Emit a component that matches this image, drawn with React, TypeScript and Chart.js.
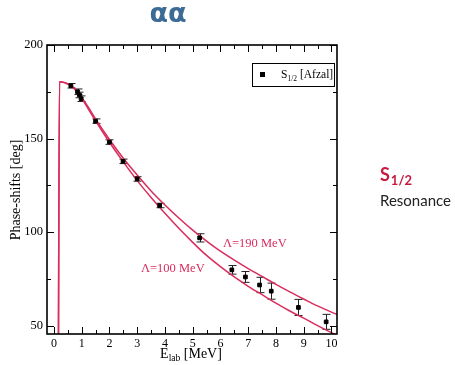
import React, { useEffect, useRef } from "react";
import { Chart, registerables } from "chart.js";

Chart.register(...registerables);

// ---- data ----
const xTicks = [0, 1, 2, 3, 4, 5, 6, 7, 8, 9, 10];
const yTicks = [50, 100, 150, 200];
const xMinorTicks = [0.5, 1.5, 2.5, 3.5, 4.5, 5.5, 6.5, 7.5, 8.5, 9.5];
const yMinorTicks = [75, 125, 175];

const afzalE = [0.61, 0.85, 0.92, 0.98, 1.5, 2.0, 2.49, 3.0, 3.81, 5.25, 6.41, 6.9, 7.41, 7.83, 8.81, 9.81];
const afzalDelta = [178.2, 175.0, 173.3, 171.3, 159.3, 148.1, 137.8, 128.4, 114.2, 96.9, 79.8, 76.0, 71.7, 68.4, 59.7, 52.0];
const afzalErr = [1.2, 1.5, 1.5, 1.5, 1.2, 1.2, 1.2, 1.2, 1.2, 2.2, 2.3, 2.9, 4.1, 4.3, 4.3, 4.0];

const curveE = [0.16, 0.2, 0.6, 0.8, 1.0, 1.25, 1.5, 2.0, 2.5, 3.0, 3.5, 4.0, 4.5, 5.0, 5.5, 6.0, 6.5, 7.0, 7.5, 8.0, 8.5, 9.0, 9.5, 10.0, 10.2];
const lambda100 = [30, 180.4, 178.3, 175.5, 171.5, 165.5, 159.5, 148, 137.5, 127.5, 118.5, 110, 102, 94.5, 87.5, 81.5, 76, 71, 66.5, 62, 57.8, 54, 50, 46.2, 44.8];
const lambda190 = [30, 180.4, 178.5, 176, 172, 166.5, 160.5, 149.5, 139.5, 130.5, 122, 114.5, 107.5, 101, 95.2, 89.8, 85, 80.5, 76.3, 72, 68, 64.2, 60.5, 57.2, 56];

const CURVE_COLOR = "#d92d5c";
const SERIF = "'Liberation Serif', 'Times New Roman', serif";

const decorPlugin = {
  id: "decor",
  beforeDraw(chart: any) {
    const { ctx } = chart;
    ctx.save();
    ctx.fillStyle = "#fff";
    ctx.fillRect(0, 0, chart.width, chart.height);
    ctx.restore();
  },
  beforeDatasetsDraw(chart: any) {
    const { ctx, scales } = chart;
    const xs = scales.x, ys = scales.y;
    ctx.save();
    ctx.beginPath();
    ctx.rect(chart.chartArea.left, chart.chartArea.top, chart.chartArea.right - chart.chartArea.left, chart.chartArea.bottom - chart.chartArea.top);
    ctx.clip();
    ctx.strokeStyle = "#222";
    ctx.lineWidth = 1;
    afzalE.forEach((e, i) => {
      const px = Math.round(xs.getPixelForValue(e)) + 0.5;
      const y1 = ys.getPixelForValue(afzalDelta[i] + afzalErr[i]);
      const y2 = ys.getPixelForValue(afzalDelta[i] - afzalErr[i]);
      ctx.beginPath();
      ctx.moveTo(px, y1);
      ctx.lineTo(px, y2);
      ctx.moveTo(px - 4, y1);
      ctx.lineTo(px + 4, y1);
      ctx.moveTo(px - 4, y2);
      ctx.lineTo(px + 4, y2);
      ctx.stroke();
    });
    ctx.restore();
  },
  afterDraw(chart: any) {
    const { ctx, scales, chartArea: a } = chart;
    const xs = scales.x, ys = scales.y;
    ctx.save();
    // ticks (inward, all four sides)
    ctx.strokeStyle = "#000";
    ctx.lineWidth = 1;
    const tickX = (v: number, len: number) => {
      const px = Math.round(xs.getPixelForValue(v)) + 0.5;
      ctx.beginPath();
      ctx.moveTo(px, a.bottom);
      ctx.lineTo(px, a.bottom - len);
      ctx.moveTo(px, a.top);
      ctx.lineTo(px, a.top + len);
      ctx.stroke();
    };
    const tickY = (v: number, len: number) => {
      const py = Math.round(ys.getPixelForValue(v)) + 0.5;
      ctx.beginPath();
      ctx.moveTo(a.left, py);
      ctx.lineTo(a.left + len, py);
      ctx.moveTo(a.right, py);
      ctx.lineTo(a.right - len, py);
      ctx.stroke();
    };
    xTicks.forEach((v) => tickX(v, 7));
    xMinorTicks.forEach((v) => tickX(v, 4));
    yTicks.forEach((v) => tickY(v, 7));
    yMinorTicks.forEach((v) => tickY(v, 4));
    // frame
    ctx.lineWidth = 1.6;
    ctx.strokeRect(a.left, a.top, a.right - a.left, a.bottom - a.top);

    // legend
    ctx.lineWidth = 1;
    ctx.strokeRect(252.5, 63.5, 82, 23);
    ctx.fillStyle = "#000";
    ctx.fillRect(260, 72, 5, 5);
    ctx.textBaseline = "alphabetic";
    ctx.textAlign = "left";
    ctx.font = `11.5px ${SERIF}`;
    ctx.fillText("S", 281, 78);
    const w = ctx.measureText("S").width;
    ctx.font = `7.5px ${SERIF}`;
    ctx.fillText("1/2", 281 + w, 81);
    const w2 = ctx.measureText("1/2").width;
    ctx.font = `11.5px ${SERIF}`;
    ctx.fillText("[Afzal]", 281 + w + w2 + 3, 78);

    // curve labels
    ctx.fillStyle = CURVE_COLOR;
    ctx.font = `12.5px ${SERIF}`;
    ctx.fillText("\u039B=190 MeV", 223, 247);
    ctx.fillText("\u039B=100 MeV", 141, 272);

    // axis titles
    ctx.fillStyle = "#000";
    ctx.font = `14px ${SERIF}`;
    const wE = ctx.measureText("E").width;
    ctx.font = `9.5px ${SERIF}`;
    const wLab = ctx.measureText("lab").width;
    ctx.font = `14px ${SERIF}`;
    const wRest = ctx.measureText(" [MeV]").width;
    const x0 = 191 - (wE + wLab + wRest) / 2;
    ctx.fillText("E", x0, 358);
    ctx.font = `9.5px ${SERIF}`;
    ctx.fillText("lab", x0 + wE, 361);
    ctx.font = `14px ${SERIF}`;
    ctx.fillText(" [MeV]", x0 + wE + wLab, 358);

    ctx.save();
    ctx.translate(20, 190);
    ctx.rotate(-Math.PI / 2);
    ctx.textAlign = "center";
    ctx.font = `14px ${SERIF}`;
    ctx.fillText("Phase-shifts [deg]", 0, 0);
    ctx.restore();

    // title
    ctx.fillStyle = "#3c6b96";
    ctx.textAlign = "center";
    ctx.font = "bold 27px 'DejaVu Sans', sans-serif";
    ctx.fillText("\u03B1\u03B1", 168, 22);

    // right annotation
    ctx.textAlign = "left";
    ctx.fillStyle = "#c8193f";
    ctx.font = "bold 18px Lato, 'Open Sans', sans-serif";
    ctx.fillText("S", 380, 181);
    const wS = ctx.measureText("S").width;
    ctx.font = "bold 13px Lato, 'Open Sans', sans-serif";
    ctx.fillText("1/2", 380 + wS + 1, 185);
    ctx.fillStyle = "#222";
    ctx.font = "15px Lato, 'Open Sans', sans-serif";
    ctx.fillText("Resonance", 380, 206);
    ctx.restore();
  },
};

export default function App() {
  const ref = useRef<HTMLCanvasElement | null>(null);
  useEffect(() => {
    if (!ref.current) return;
    const chart = new Chart(ref.current, {
      type: "scatter",
      data: {
        datasets: [
          {
            label: "S1/2 [Afzal]",
            data: afzalE.map((e, i) => ({ x: e, y: afzalDelta[i] })),
            backgroundColor: "#000",
            borderColor: "#000",
            pointStyle: "rect",
            pointRadius: 2.6,
            showLine: false,
          },
          {
            label: "Λ=190 MeV",
            data: curveE.map((e, i) => ({ x: e, y: lambda190[i] })),
            borderColor: CURVE_COLOR,
            borderWidth: 1.5,
            pointRadius: 0,
            showLine: true,
            cubicInterpolationMode: "monotone",
          } as any,
          {
            label: "Λ=100 MeV",
            data: curveE.map((e, i) => ({ x: e, y: lambda100[i] })),
            borderColor: CURVE_COLOR,
            borderWidth: 1.5,
            pointRadius: 0,
            showLine: true,
            cubicInterpolationMode: "monotone",
          } as any,
        ],
      },
      options: {
        responsive: false,
        animation: false,
        devicePixelRatio: 1,
        layout: { padding: { top: 45, right: 118, left: 0, bottom: 0 } },
        plugins: { legend: { display: false }, tooltip: { enabled: false }, title: { display: false } },
        scales: {
          x: {
            type: "linear",
            min: -0.25,
            max: 10.2,
            afterBuildTicks: (s: any) => {
              s.ticks = xTicks.map((v) => ({ value: v }));
            },
            afterFit: (s: any) => {
              s.height = 31;
            },
            grid: { display: false, drawTicks: false },
            border: { display: false },
            ticks: { color: "#000", padding: 3, maxRotation: 0, autoSkip: false, font: { family: SERIF, size: 12 } },
          },
          y: {
            type: "linear",
            min: 45.5,
            max: 200,
            afterBuildTicks: (s: any) => {
              s.ticks = yTicks.map((v) => ({ value: v }));
            },
            afterFit: (s: any) => {
              s.width = 47;
            },
            grid: { display: false, drawTicks: false },
            border: { display: false },
            ticks: { color: "#000", padding: 4, autoSkip: false, font: { family: SERIF, size: 12.5 } },
          },
        },
      },
      plugins: [decorPlugin],
    });
    return () => chart.destroy();
  }, []);
  return (
    <div style={{ position: "absolute", left: 0, top: 0, width: 455, height: 365 }}>
      <canvas ref={ref} width={455} height={365} style={{ width: 455, height: 365, display: "block" }} />
    </div>
  );
}
